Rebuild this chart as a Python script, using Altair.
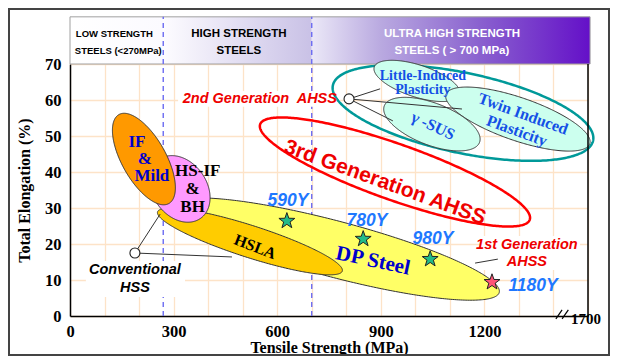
import math
import numpy as np
import pandas as pd
import altair as alt

# ---------------- data ----------------
X_MAX, Y_MAX = 1500, 70
W, H = 518, 252
KX, KY = W / X_MAX, H / Y_MAX  # px per MPa, px per %

# steel-class regions (ellipses): centre (MPa, %), semi axes (px), tilt (deg, clockwise)
region_names = ["DP Steel", "HSLA", "HS-IF & BH", "IF & Mild", "3rd Generation AHSS",
                "2nd Generation AHSS", "Little-Induced Plasticity", "Twin Induced Plasticity", "g-SUS"]
region_ts = [767, 521, 318, 214, 941, 1138, 1005, 1297, 1048]
region_el = [18.6, 20.7, 35.3, 43.6, 40.0, 56.4, 65.3, 54.7, 53.3]
region_a = [170, 97, 36, 51, 143, 133, 45, 76, 51]
region_b = [28, 16, 27, 22, 28, 40, 16, 21.5, 21]
region_tilt = [14.8, 17.8, 55, 60.7, 19.5, 12, 18, 19, 21]
region_fill = ["#ffff66", "#ffcc00", "#ff99ff", "#ff9900", "transparent",
               "transparent", "#ccffee", "#ccffee", "#ccffee"]
region_stroke = ["#333333", "#333333", "#333333", "#333333", "#ff0000",
                 "#009999", "#333333", "#333333", "#333333"]
region_sw = [1, 1, 1, 1, 2.5, 2.5, 1, 1, 1]

# steel grades (stars)
grade_labels = ["590Y", "780Y", "980Y", "1180Y"]
grade_ts = [628, 849, 1043, 1222]
grade_el = [26.4, 21.4, 15.8, 9.4]
grade_label_ts = [631, 860, 1051, 1341]
grade_label_el = [31.9, 26.4, 21.4, 8.3]

# strength classes (header band)
band_start = [0, 270, 700]
band_end = [270, 700, 1506]
class_limits = [270, 700]

# callouts: (from circle) -> (to region edge)
conv_circle = (188, 17.5)
conv_targets_ts = [261, 469]
conv_targets_el = [28.3, 16.4]
gen2_circle = (808, 60.3)
gen2_targets_ts = [898, 935, 1135]
gen2_targets_el = [63.1, 54.2, 57.5]
gen1_line = (1173, 14.7, 1239, 15.8)

x_ticks = list(range(0, 1501, 100))
y_ticks = list(range(0, 71, 10))

# ---------------- helpers ----------------
XS = alt.Scale(domain=[0, X_MAX], nice=False, zero=False)
YS = alt.Scale(domain=[0, Y_MAX], nice=False, zero=False)
x_axis = alt.Axis(title="Tensile Strength (MPa)", values=x_ticks, format="d",
                  labelExpr="datum.value % 300 == 0 && datum.value <= 1200 ? datum.label : ''",
                  labelFlush=False, labelPadding=7, titlePadding=0)
y_axis = alt.Axis(title="Total Elongation (%)", values=y_ticks, labelPadding=9, titlePadding=12)
X = alt.X("x:Q", scale=XS, axis=x_axis)
Y = alt.Y("y:Q", scale=YS, axis=y_axis)


def ellipse(cx, cy, a, b, tilt, n=180):
    t = math.radians(tilt)
    c, s = math.cos(t), math.sin(t)
    A = c * c / a ** 2 + s * s / b ** 2
    B = 2 * s * c * (1 / b ** 2 - 1 / a ** 2)
    C = s * s / a ** 2 + c * c / b ** 2
    xm = math.sqrt(a * a * c * c + b * b * s * s)
    Xp = -xm * np.cos(np.linspace(0, np.pi, n))
    disc = np.clip(B * B * Xp * Xp - 4 * C * (A * Xp * Xp - 1), 0, None)
    y_up = (-B * Xp + np.sqrt(disc)) / (2 * C)
    y_dn = (-B * Xp - np.sqrt(disc)) / (2 * C)
    return pd.DataFrame({"x": cx + Xp / KX, "y": cy + y_up / KY, "y2": cy + y_dn / KY})


def region_layer(i):
    df = ellipse(region_ts[i], region_el[i], region_a[i], region_b[i], region_tilt[i])
    return alt.Chart(df).mark_area(fill=region_fill[i], stroke=region_stroke[i],
                                   strokeWidth=region_sw[i]).encode(x=X, y=Y, y2="y2:Q")


def text_layer(rows, font, italic=False, align="center"):
    df = pd.DataFrame(rows, columns=["text", "x", "y", "size", "color", "angle"])
    return alt.Chart(df).mark_text(font=font, fontWeight="bold",
                                   fontStyle="italic" if italic else "normal",
                                   align=align, baseline="middle").encode(
        x=X, y=Y, text="text:N",
        size=alt.Size("size:Q", scale=None),
        color=alt.Color("color:N", scale=None),
        angle=alt.Angle("angle:Q", scale=None))


SERIF = "Liberation Serif"
SANS = "Liberation Sans"
HEAD_BOT, HEAD_TOP = 70, 83.1

layers = []

# header band
grads = [
    alt.LinearGradient(gradient="linear", stops=[alt.GradientStop(color="#ffffff", offset=0),
                                                 alt.GradientStop(color="#fbfaff", offset=1)]),
    alt.LinearGradient(gradient="linear", stops=[alt.GradientStop(color="#fdfcff", offset=0),
                                                 alt.GradientStop(color="#c9c1e6", offset=1)]),
    alt.LinearGradient(gradient="linear", stops=[alt.GradientStop(color="#ebe8f7", offset=0),
                                                 alt.GradientStop(color="#b9a9e0", offset=0.25),
                                                 alt.GradientStop(color="#8a62cf", offset=0.6),
                                                 alt.GradientStop(color="#6410c8", offset=1)]),
]
for s, e, g in zip(band_start, band_end, grads):
    df = pd.DataFrame({"x": [s], "x2": [e], "y": [HEAD_BOT], "y2": [HEAD_TOP]})
    layers.append(alt.Chart(df).mark_rect(color=g).encode(x=X, x2="x2:Q", y=Y, y2="y2:Q"))
layers.append(alt.Chart(pd.DataFrame({"x": [0], "x2": [1506], "y": [HEAD_BOT], "y2": [HEAD_TOP]}))
              .mark_rect(fill="transparent", stroke="#a0a0a0", strokeWidth=1)
              .encode(x=X, x2="x2:Q", y=Y, y2="y2:Q"))

# class limit dashed lines
layers.append(alt.Chart(pd.DataFrame({"x": class_limits, "y": [0, 0], "y2": [HEAD_TOP, HEAD_TOP]}))
              .mark_rule(color="#6b6bf2", strokeDash=[5, 4], strokeWidth=1.4)
              .encode(x=X, y=Y, y2="y2:Q"))

# white backgrounds behind callout texts
wb = pd.DataFrame({"x": [46, 313, 1187], "x2": [333, 782, 1477],
                   "y": [5.3, 58.1, 12.8], "y2": [15.3, 62.5, 22.2]})
layers.append(alt.Chart(wb).mark_rect(fill="white").encode(x=X, x2="x2:Q", y=Y, y2="y2:Q"))

# regions
for i in range(len(region_names)):
    layers.append(region_layer(i))

# right border of the plot
layers.append(alt.Chart(pd.DataFrame({"x": [X_MAX], "y": [0], "y2": [Y_MAX]}))
              .mark_rule(color="black", strokeWidth=1.5).encode(x=X, y=Y, y2="y2:Q"))

# callout lines
lines = pd.DataFrame({
    "x": [conv_circle[0]] * 2 + [gen2_circle[0]] * 3 + [gen1_line[0]],
    "y": [conv_circle[1]] * 2 + [gen2_circle[1]] * 3 + [gen1_line[1]],
    "x2": conv_targets_ts + gen2_targets_ts + [gen1_line[2]],
    "y2": conv_targets_el + gen2_targets_el + [gen1_line[3]],
})
layers.append(alt.Chart(lines).mark_rule(color="#333333", strokeWidth=1)
              .encode(x=X, y=Y, x2="x2:Q", y2="y2:Q"))
circ = pd.DataFrame({"x": [conv_circle[0], gen2_circle[0]], "y": [conv_circle[1], gen2_circle[1]]})
layers.append(alt.Chart(circ).mark_point(shape="circle", filled=True, fill="white", stroke="#222222",
                                         strokeWidth=1.1, size=100, opacity=1).encode(x=X, y=Y))

# stars
STAR = ("M0,-1L0.235,-0.324L0.951,-0.309L0.38,0.124L0.588,0.809L0,0.4L-0.588,0.809"
        "L-0.38,0.124L-0.951,-0.309L-0.235,-0.324Z")
stars = pd.DataFrame({"grade": grade_labels, "x": grade_ts, "y": grade_el})
layers.append(alt.Chart(stars).mark_point(shape=STAR, filled=True, stroke="#222222", strokeWidth=1,
                                          size=280, opacity=1).encode(
    x=X, y=Y,
    fill=alt.condition(alt.datum.grade == "1180Y", alt.value("#ff5577"), alt.value("#22bb88"))))

# texts
BLUE, LBLUE, GBLUE = "#0000cc", "#1450e6", "#1e78ff"
serif_rows = [
    ["IF", 194, 48.3, 17, BLUE, 0], ["&", 217, 43.6, 17, BLUE, 0], ["Mild", 237, 38.9, 17, BLUE, 0],
    ["HS-IF", 370, 40.3, 17, "black", 0], ["&", 355, 35.3, 17, "black", 0], ["BH", 355, 30.3, 17, "black", 0],
    ["HSLA", 536, 19.2, 16, "black", 21],
    ["DP Steel", 877, 15.3, 21, BLUE, 12],
    ["Little-Induced", 1022, 66.7, 14, LBLUE, 0], ["Plasticity", 1022, 62.8, 14, LBLUE, 0],
    ["\u03b3 -SUS", 1051, 52.8, 16, LBLUE, 25],
    ["Twin Induced", 1312, 56.1, 16, LBLUE, 20], ["Plasticity", 1294, 51.4, 16, LBLUE, 20],
    ["1700", 1494, -0.8, 15, "black", 0],
]
layers.append(text_layer(serif_rows, SERIF))

italic_rows = [
    ["Conventional", 188, 12.8, 14.5, "black", 0], ["HSS", 188, 7.8, 14.5, "black", 0],
    ["1st Generation", 1323, 19.7, 14.5, "#ee0000", 0], ["AHSS", 1323, 15.0, 14.5, "#ee0000", 0],
]
for lab, lx, ly in zip(grade_labels, grade_label_ts, grade_label_el):
    italic_rows.append([lab, lx, ly, 17.5, GBLUE, 0])
layers.append(text_layer(italic_rows, SANS, italic=True))
layers.append(text_layer([["2nd Generation\u00a0 AHSS", 773, 60.3, 14.5, "#ee0000", 0]],
                         SANS, italic=True, align="right"))

sans_rows = [
    ["3rd Generation AHSS", 912, 37.0, 21, "#ee0000", 20],
    ["HIGH STRENGTH", 489, 78.3, 11.5, "black", 0], ["STEELS", 489, 73.6, 11.5, "black", 0],
    ["ULTRA HIGH STRENGTH", 1106, 78.3, 11.5, "white", 0],
    ["STEELS ( > 700 MPa)", 1106, 73.6, 11.5, "white", 0],
]
layers.append(text_layer(sans_rows, SANS))
layers.append(text_layer([["LOW STRENGTH", 17, 78.3, 9.5, "black", 0],
                          ["STEELS (<270MPa)", 14, 73.6, 9.5, "black", 0]], SANS, align="left"))

# axis break marks
brk = pd.DataFrame({"x": [1407, 1425], "y": [-0.8, -0.8], "x2": [1425, 1443], "y2": [1.7, 1.7]})
layers.append(alt.Chart(brk).mark_rule(color="black", strokeWidth=1.2)
              .encode(x=X, y=Y, x2="x2:Q", y2="y2:Q"))

# outer frame
layers.append(alt.Chart(pd.DataFrame({"k": [0]})).mark_rect(fill="transparent", stroke="#444444",
                                                            strokeWidth=2).encode(
    x=alt.value(-61), x2=alt.value(539), y=alt.value(-55), y2=alt.value(291)))

chart = alt.layer(*layers).properties(
    width=W, height=H,
    autosize=alt.AutoSizeParams(type="none"),
    padding={"left": 62, "top": 56, "right": 22, "bottom": 40},
    background="white",
).configure_view(stroke="transparent").configure_axis(
    labelFont=SERIF, labelFontWeight="bold", labelFontSize=16.5, labelColor="black",
    titleFont=SERIF, titleFontWeight="bold", titleFontSize=16, titleColor="black",
    domainColor="black", domainWidth=1.5, ticks=False,
    grid=True, gridColor="#fde3c8", gridWidth=1.3,
)

chart.save("out.html", embed_options={"renderer": "svg", "actions": False})
